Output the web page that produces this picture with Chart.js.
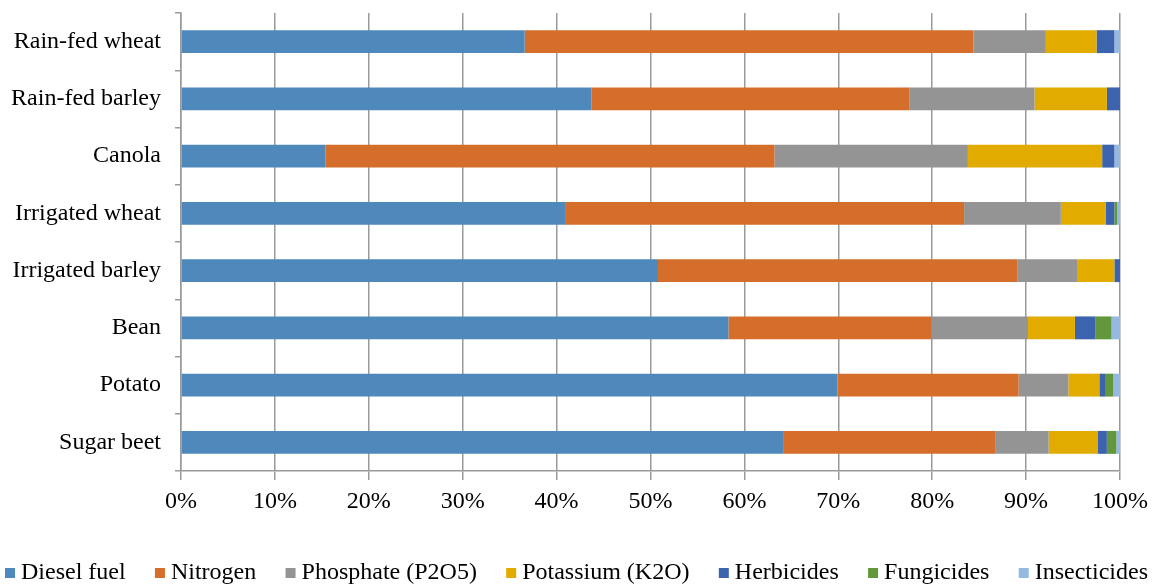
<!DOCTYPE html>
<html>
<head>
<meta charset="utf-8">
<script src="https://cdn.jsdelivr.net/npm/chart.js@4/dist/chart.umd.min.js"></script>
<style>
  html, body { margin: 0; padding: 0; background: #fff; }
  #wrap { width: 1155px; height: 586px; overflow: hidden; }
</style>
</head>
<body>
<div id="wrap"><canvas id="c" width="1155" height="586"></canvas></div>
<script>
// Share of energy input by source for each crop (% of total)
const crops = ['Rain-fed wheat', 'Rain-fed barley', 'Canola', 'Irrigated wheat',
               'Irrigated barley', 'Bean', 'Potato', 'Sugar beet'];
const dieselFuel   = [36.6, 43.7, 15.4, 40.9, 50.8, 58.3, 69.9, 64.2];
const nitrogen     = [47.8, 33.9, 47.8, 42.5, 38.3, 21.6, 19.3, 22.5];
const phosphate    = [ 7.7, 13.3, 20.6, 10.3,  6.4, 10.3,  5.3,  5.7];
const potassium    = [ 5.4,  7.7, 14.3,  4.8,  3.9,  5.0,  3.3,  5.2];
const herbicides   = [ 1.9,  1.4,  1.3,  0.9,  0.6,  2.2,  0.6,  1.0];
const fungicides   = [ 0.0,  0.0,  0.0,  0.3,  0.0,  1.7,  0.9,  1.0];
const insecticides = [ 0.6,  0.0,  0.6,  0.3,  0.0,  0.9,  0.7,  0.4];
const xTicks = [0, 10, 20, 30, 40, 50, 60, 70, 80, 90, 100];

const seriesNames  = ['Diesel fuel', 'Nitrogen', 'Phosphate (P2O5)', 'Potassium (K2O)',
                      'Herbicides', 'Fungicides', 'Insecticides'];
const seriesValues = [dieselFuel, nitrogen, phosphate, potassium, herbicides, fungicides, insecticides];
const seriesColors = ['#4f89bc', '#d56e2b', '#949494', '#e2ab00', '#3c64ae', '#62973b', '#96b9e1'];

const serif = '"Liberation Serif", "Times New Roman", serif';

const datasets = seriesNames.map((name, i) => ({
  label: name,
  data: seriesValues[i],
  backgroundColor: seriesColors[i],
  borderWidth: 0,
  categoryPercentage: 1.0,
  barPercentage: 0.4
}));

// One-row legend spread across the full canvas width, built from the chart's legend items
const wideLegend = {
  id: 'wideLegend',
  afterDraw(chart) {
    const ctx = chart.ctx;
    const items = chart.options.plugins.legend.labels.generateLabels(chart);
    const box = 10, gap = 6, left = 5, right = 1148, cy = 573;
    ctx.save();
    ctx.font = '24px ' + serif;
    ctx.textBaseline = 'middle';
    const widths = items.map(it => box + gap + ctx.measureText(it.text).width);
    const total = widths.reduce((a, b) => a + b, 0);
    const spacing = (right - left - total) / (items.length - 1);
    let x = left;
    items.forEach((it, i) => {
      ctx.fillStyle = it.fillStyle;
      ctx.fillRect(x, cy - box / 2, box, box);
      ctx.fillStyle = '#000';
      ctx.fillText(it.text, x + box + gap, cy);
      x += widths[i] + spacing;
    });
    ctx.restore();
  }
};

new Chart(document.getElementById('c'), {
  type: 'bar',
  data: { labels: crops, datasets },
  plugins: [wideLegend],
  options: {
    indexAxis: 'y',
    responsive: false,
    animation: false,
    layout: { padding: { left: 0, right: 34, top: 13, bottom: 75 } },
    plugins: {
      legend: { display: false },
      tooltip: { enabled: false }
    },
    scales: {
      x: {
        stacked: true,
        min: 0,
        max: 100,
        afterBuildTicks: (scale) => { scale.ticks = xTicks.map(v => ({ value: v })); },
        afterFit: (scale) => { scale.height = 40; },
        ticks: {
          color: '#000',
          padding: 7,
          font: { family: serif, size: 24 },
          callback: (v) => v + '%'
        },
        grid: { color: '#9a9a9a', lineWidth: 1.5, tickLength: 9 },
        border: { color: '#9a9a9a', width: 1.5 }
      },
      y: {
        stacked: true,
        afterFit: (scale) => { scale.width = 181; scale.paddingTop = 0; scale.paddingBottom = 0; },
        ticks: {
          color: '#000',
          padding: 14,
          font: { family: serif, size: 24 }
        },
        grid: { drawOnChartArea: false, offset: true, color: '#9a9a9a', lineWidth: 1.5, tickLength: 6 },
        border: { color: '#9a9a9a', width: 1.5 }
      }
    }
  }
});
</script>
</body>
</html>
